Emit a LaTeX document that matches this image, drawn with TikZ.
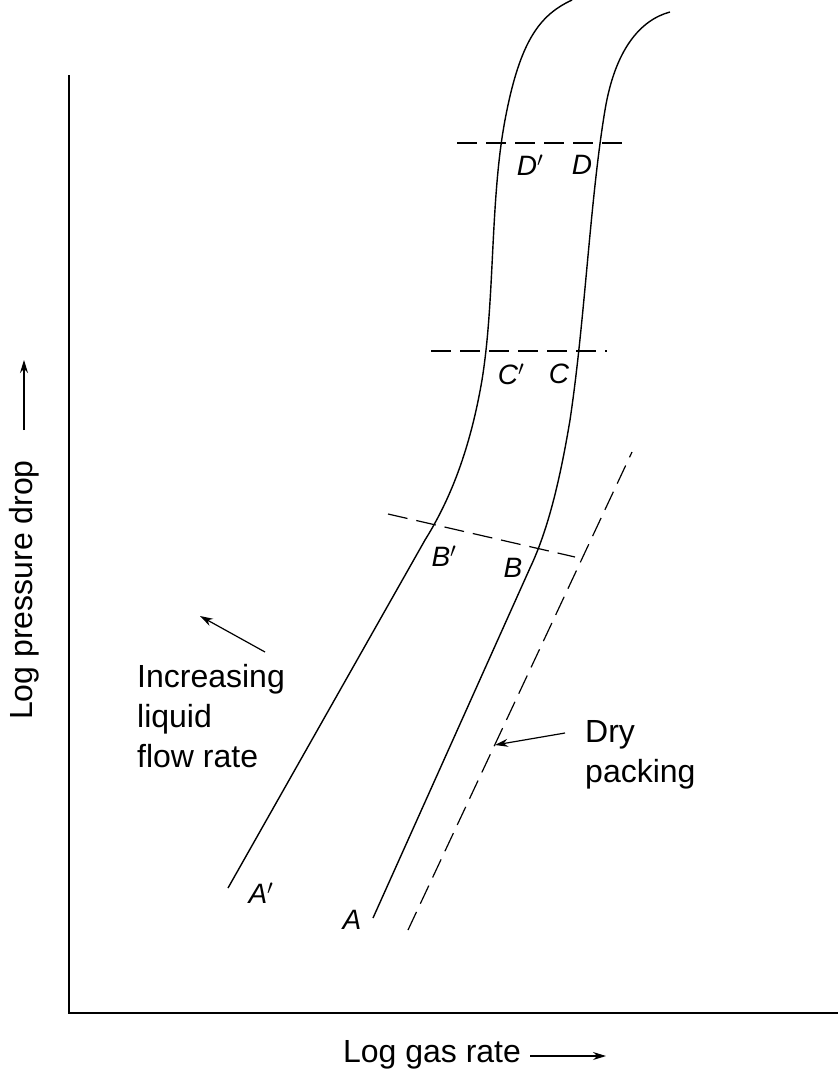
\documentclass[tikz,border=0pt]{standalone}
\usepackage{fontspec}
\setmainfont{Liberation Sans}
\usetikzlibrary{arrows.meta}
\begin{document}
\begin{tikzpicture}[x=1pt,y=-1pt,
  curve/.style={line width=1.4pt},
  dashline/.style={line width=1.2pt,dash pattern=on 20pt off 9pt},
  lab/.style={font=\fontsize{28}{30}\selectfont\itshape,inner sep=0pt},
  txt/.style={font=\fontsize{32}{40}\selectfont,inner sep=0pt,align=left},
  arr/.style={line width=1.2pt,-{Stealth[length=13pt,width=8pt]}}]
\useasboundingbox (0,0) rectangle (838,1073);
\coordinate (o) at (69,1013);
\coordinate (ytop) at (69,75);
\coordinate (xend) at (838,1013);
\draw[line width=1.4pt] (ytop) -- (o) -- (xend);
% curves
\draw[curve] (228,888) -- (425,540) .. controls (450,500) and (470,450) .. (482,380)
  .. controls (495,300) and (490,200) .. (505,120) .. controls (520,40) and (540,15) .. (572,0);
\draw[curve] (373,918) -- (530,568) .. controls (548,530) and (560,480) .. (570,420)
  .. controls (585,320) and (590,200) .. (605,110) .. controls (615,50) and (640,20) .. (670,12);
% dashed
\draw[dashline] (408,930) -- (632,452);
\draw[dashline] (457,143) -- (627,143);
\draw[dashline] (431,351) -- (607,351);
\draw[dashline] (388,514) -- (575,557);
% labels
\node[lab] (dp) at (530,165) {D$'$};
\node[lab] (d) at (582,165) {D};
\node[lab] (cp) at (511,374) {C$'$};
\node[lab] (c) at (559,374) {C};
\node[lab] (bp) at (444,556) {B$'$};
\node[lab] (b) at (513,568) {B};
\node[lab] (ap) at (261,893) {A$'$};
\node[lab] (a) at (352,920) {A};
% texts
\node[txt,anchor=north west] (inc) at (137,664) {Increasing\\liquid\\flow rate};
\coordinate (i1) at (265,652); \coordinate (i2) at (200,616);
\draw[arr] (i1) -- (i2);
\node[txt,anchor=north west] (dry) at (585,720) {Dry\\packing};
\coordinate (d1) at (565,733); \coordinate (d2) at (495,745);
\draw[arr] (d1) -- (d2);
\node[txt] (xl) at (432,1055) {Log gas rate};
\coordinate (x1) at (530,1056); \coordinate (x2) at (606,1056);
\draw[arr] (x1) -- (x2);
\node[txt,rotate=90] (yl) at (24,590) {Log pressure drop};
\coordinate (y1) at (24,430); \coordinate (y2) at (24,360);
\draw[arr] (y1) -- (y2);
\end{tikzpicture}
\end{document}
